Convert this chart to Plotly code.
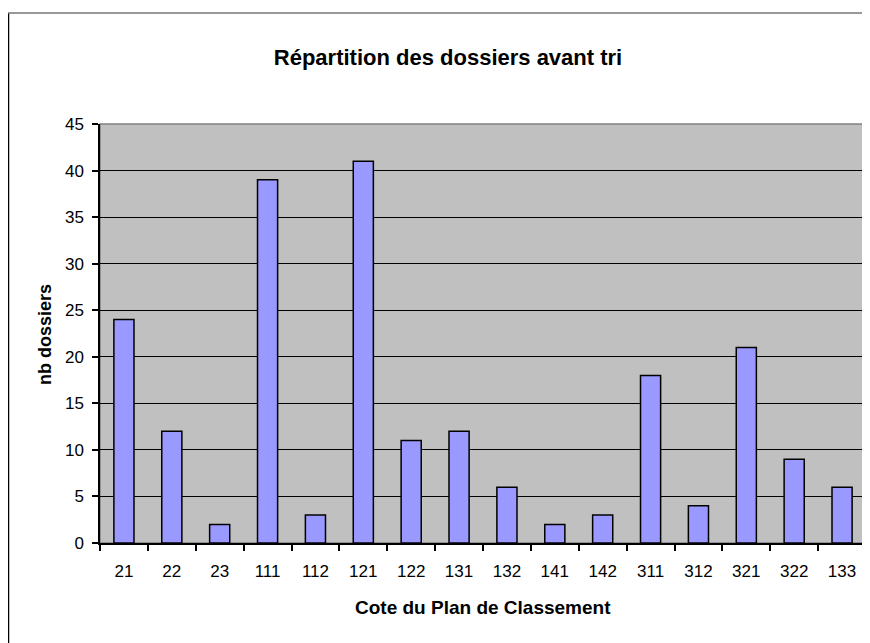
import plotly.graph_objects as go

categories = ["21", "22", "23", "111", "112", "121", "122", "131", "132",
              "141", "142", "311", "312", "321", "322", "133"]
values = [24, 12, 2, 39, 3, 41, 11, 12, 6, 2, 3, 18, 4, 21, 9, 6]

title_text = "Répartition des dossiers avant tri"
x_title = "Cote du Plan de Classement"
y_title = "nb dossiers"

# page offset of the figure (default body margin)
OFF = 8
W, H = 870 - OFF, 643 - OFF
L, R, T, B = 92, 4, 116, 100
pw, ph = W - L - R, H - T - B

def px_x(p):  # page pixel -> paper x
    return (p - OFF - L) / pw

def px_y(p):  # page pixel -> paper y
    return (H - B - (p - OFF)) / ph

fig = go.Figure(go.Bar(
    x=categories, y=values,
    marker=dict(color="#9999FF", line=dict(color="#000000", width=1.5)),
    width=0.42,
))

font = "Liberation Sans, Arial, sans-serif"

fig.update_layout(
    width=W, height=H,
    margin=dict(l=L, r=R, t=T, b=B),
    paper_bgcolor="white",
    plot_bgcolor="#C0C0C0",
    showlegend=False,
    font=dict(family=font, color="#000000"),
    title=dict(text="<b>" + title_text + "</b>", x=px_x(448), xref="paper",
               xanchor="center", y=1 - (57 - OFF) / H, yref="container", yanchor="middle",
               font=dict(size=22, family=font, color="#000000")),
    xaxis=dict(
        type="category", tickson="boundaries", ticks="outside", ticklen=6,
        tickcolor="#000000", tickwidth=1.5, showline=True, linecolor="#000000",
        linewidth=1.5, showgrid=False, tickfont=dict(size=17, family=font),
        ticklabelstandoff=12, range=[-0.5, len(categories) - 0.5],
    ),
    yaxis=dict(
        range=[0, 45], dtick=5, ticks="outside", ticklen=6, tickcolor="#000000",
        tickwidth=1.5, showline=True, linecolor="#000000", linewidth=1.5,
        showgrid=True, gridcolor="#000000", gridwidth=1.3,
        tickfont=dict(size=17, family=font), zeroline=False,
        ticklabelstandoff=5,
    ),
    shapes=[
        dict(type="rect", xref="paper", yref="paper", x0=0, x1=1, y0=0, y1=1,
             line=dict(color="#808080", width=1.5), layer="below"),
        dict(type="line", xref="paper", yref="paper", x0=px_x(8.5), x1=px_x(8.5),
             y0=px_y(13), y1=px_y(660), line=dict(color="#000000", width=1.5)),
        dict(type="line", xref="paper", yref="paper", x0=px_x(8), x1=px_x(880),
             y0=px_y(13), y1=px_y(13), line=dict(color="#777777", width=1.5)),
    ],
    annotations=[
        dict(text="<b>" + x_title + "</b>", xref="paper", yref="paper",
             x=px_x(483), y=px_y(607), xanchor="center", yanchor="middle",
             showarrow=False, font=dict(size=19, family=font)),
        dict(text="<b>" + y_title + "</b>", xref="paper", yref="paper",
             x=px_x(45), y=px_y(335), xanchor="center", yanchor="middle",
             textangle=-90, showarrow=False, font=dict(size=18, family=font)),
    ],
)

fig.write_html("out.html")
